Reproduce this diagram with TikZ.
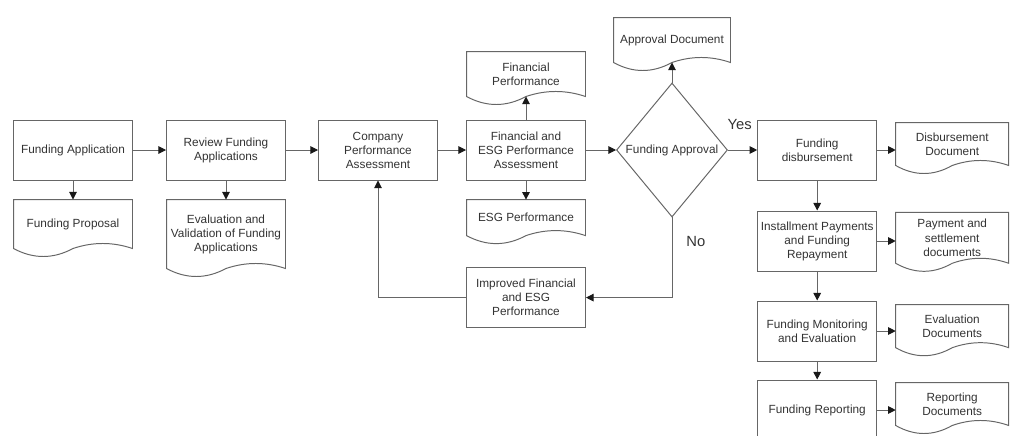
\documentclass[tikz,border=0pt]{standalone}
\usepackage{fontspec}
\setmainfont{Liberation Sans}
\usetikzlibrary{arrows.meta,calc,positioning,shapes.geometric}

\tikzset{
  txt/.style={font=\fontsize{8.4}{10}\selectfont,text=black!80},
  proc/.style={rectangle,draw,txt,minimum width=2.975cm,minimum height=1.5cm,align=center,inner sep=1pt},
  docnode/.style={rectangle,txt,minimum width=2.95cm,align=center,inner sep=1pt},
  decision/.style={diamond,draw,txt,minimum width=2.775cm,minimum height=3.35cm,inner sep=0pt},
  lbl/.style={inner sep=0pt,font=\fontsize{10.5}{12}\selectfont,text=black!80}
}

\begin{document}
\begin{tikzpicture}[->,>={Triangle[length=1.9mm,width=1.9mm,color=black!90]},line width=0.7pt,color=black!60,node distance=3.8cm]
  \useasboundingbox (0,0) rectangle (25.25,-10.875);

  \node[proc] (A) at (1.825,-3.75) {Funding Application};
  \node[proc] (B) [right of=A,node distance=3.825cm] {Review Funding\\Applications};
  \node[proc] (C) [right of=B] {Company\\Performance\\Assessment};
  \node[proc] (D) [right of=C,node distance=3.7cm] {Financial and\\ESG Performance\\Assessment};
  \node[decision] (E) [right of=D,node distance=3.65cm] {Funding Approval};
  \node[proc] (F) [right of=E,node distance=3.63cm] {Funding\\disbursement};
  \node[proc] (G) [below of=F,node distance=2.275cm] {Installment Payments\\and Funding\\Repayment};
  \node[proc] (H) [below of=G,node distance=2.25cm] {Funding Monitoring\\and Evaluation};
  \node[proc] (I) [below of=H,node distance=1.975cm] {Funding Reporting};
  \node[proc] (J) [below of=D,node distance=3.69cm] {Improved Financial\\and ESG\\Performance};

  \node[docnode,minimum height=1.2cm] (prop) [below of=A,node distance=1.85cm] {Funding Proposal};
  \node[docnode,minimum height=1.7cm] (evalv) [below of=B,node distance=2.1cm] {Evaluation and\\Validation of Funding\\Applications};
  \node[docnode,minimum height=1.1cm] (finperf) [above of=D,node distance=1.9cm] {Financial\\Performance};
  \node[docnode,minimum height=0.875cm] (esgperf) [below of=D,node distance=1.69cm] {ESG Performance};
  \node[docnode,minimum height=1.1cm,minimum width=2.9cm] (appr) [above of=E,node distance=2.75cm] {Approval Document};
  \node[docnode,minimum height=1.05cm,minimum width=2.8cm] (disb) [right of=F,node distance=3.375cm,yshift=0.15cm] {Disbursement\\Document};
  \node[docnode,minimum height=1.25cm,minimum width=2.8cm] (pay) [right of=G,node distance=3.375cm,yshift=0.08cm] {Payment and\\settlement\\documents};
  \node[docnode,minimum height=1.05cm,minimum width=2.8cm] (evald) [right of=H,node distance=3.375cm,yshift=0.12cm] {Evaluation\\Documents};
  \node[docnode,minimum height=1.05cm,minimum width=2.8cm] (rep) [right of=I,node distance=3.375cm,yshift=0.15cm] {Reporting\\Documents};

  \foreach \d in {prop,evalv,finperf,esgperf,appr,disb,pay,evald,rep}
    \draw[-] (\d.north west) -- (\d.north east) -- (\d.south east)
      .. controls ($(\d.south east)!0.333!(\d.south)+(0,0.167)$) and ($(\d.south east)!0.667!(\d.south)+(0,0.167)$) .. (\d.south)
      .. controls ($(\d.south)!0.333!(\d.south west)+(0,-0.267)$) and ($(\d.south)!0.667!(\d.south west)+(0,-0.267)$) .. (\d.south west) -- cycle;

  \path
(A) edge (B)
(B) edge (C)
(C) edge (D)
(D) edge (E)
(E) edge node[lbl,pos=0.4,above=0.5cm] {Yes} (F)
(F) edge (G)
(G) edge (H)
(H) edge (I)
(A) edge (prop)
(B) edge (evalv)
(D) edge (finperf)
(D) edge (esgperf)
(E) edge (appr)
;
  \draw (F) -- (F -| disb.west);
  \draw (G) -- (G -| pay.west);
  \draw (H) -- (H -| evald.west);
  \draw (I) -- (I -| rep.west);
  \draw (E.south) |- node[lbl,pos=0.15,right=0.35cm] {No} (J.east);
  \draw (J.west) -| (C.south);
\end{tikzpicture}
\end{document}
